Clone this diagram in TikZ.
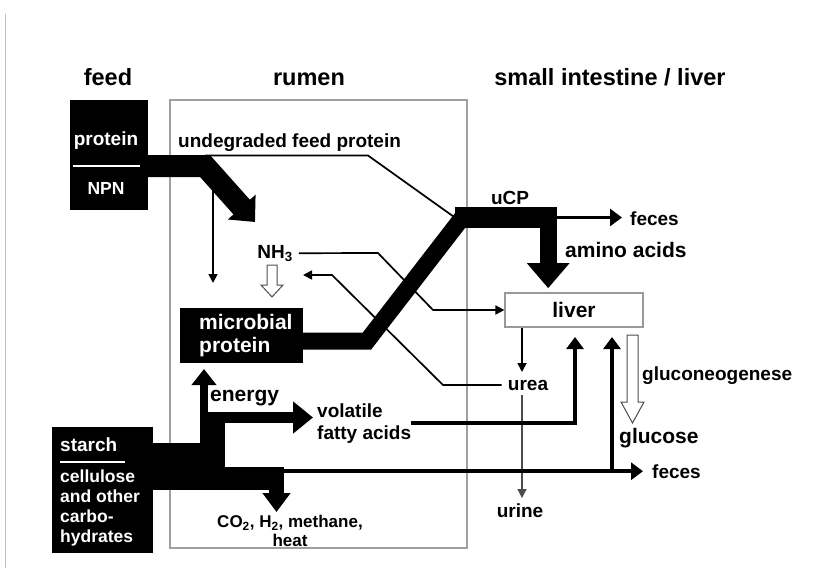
\documentclass[tikz,border=0pt]{standalone}
\usepackage{fontspec}
\setmainfont{Liberation Sans}
\usetikzlibrary{arrows.meta}

\tikzset{
	head/.style={font=\fontsize{23.5}{26}\selectfont\bfseries, inner sep=0pt},
	lbl/.style={font=\fontsize{19}{22}\selectfont\bfseries, inner sep=0pt},
	biglbl/.style={font=\fontsize{21}{23}\selectfont\bfseries, inner sep=0pt},
	whitelbl/.style={text=white},
	blackbox/.style={fill=black, inner sep=0pt},
	flow/.style={line width=1.7pt, -{Triangle[length=9pt,width=9pt]}},
	bigflow/.style={line width=3.5pt, -{Triangle[length=12pt,width=17pt]}},
	hollow/.style={fill=white, draw=black!70, line width=1pt},
}

\begin{document}
\begin{tikzpicture}[x=1pt,y=-1pt]
	\useasboundingbox (0,0) rectangle (827,568);
	% Frame Edge %
	\draw [gray!50, line width=1pt] (5,14) -- (5,568);

	% Headers %
	\node [head, anchor=base] (feedhead) at (108,85) {feed};
	\node [head, anchor=base] (rumenhead) at (309,85) {rumen};
	\node [head, anchor=base] (smallhead) at (610,85) {small intestine / liver};

	% Rumen %
	\node [draw=gray!75, line width=1.3pt, minimum width=297pt, minimum height=448pt, inner sep=0pt] (rumen) at (318.5,324) {};

	% Boxes %
	\node [blackbox, minimum width=78pt, minimum height=110pt] (feedbox) at (109,155) {};
	\node [blackbox, minimum width=123pt, minimum height=55pt] (micro) at (241.5,335.5) {};
	\node [blackbox, minimum width=102pt, minimum height=21pt] (ucp) at (506,217.5) {};
	\node [blackbox, minimum width=101pt, minimum height=126pt] (starch) at (102.5,490) {};
	\node [biglbl, draw=gray!80, line width=1.2pt, minimum width=138pt, minimum height=34pt] (liver) at (574,310) {liver};

	% Feed %
	\node [lbl, whitelbl, anchor=base] (protein) at (106,145) {protein};
	\draw [white, line width=2pt] (73,166) -- (140,166);
	\node [lbl, whitelbl, font=\fontsize{17.5}{20}\selectfont\bfseries, anchor=base] (npn) at (106,194) {NPN};
	\draw [line width=22pt, -{Triangle[length=20pt,width=36pt]}] (feedbox.east |- 0,166) -- (205,166) -- (255,222);
	\node [lbl, anchor=base west] (udp) at (178,147) {undegraded feed protein};
	\draw [line width=1.7pt] (205,155.5) -- (368,155.5) -- (ucp.west);
	\coordinate (microtop) at (213,283);
	\draw [flow] (microtop |- 0,177) -- (microtop);

	% NH3 %
	\node [lbl, anchor=base] (nh3) at (275,258) {NH\textsubscript{3}};
	\draw [hollow] (267,265) -- (277,265) -- (277,285) -- (283,285) -- (272,297) -- (261,285) -- (267,285) -- cycle;
	\draw [flow] ([xshift=6pt]nh3.east) -- (378,253) -- (433,310) -- (liver.west);

	% Microbial Protein %
	\node [biglbl, whitelbl, align=left, anchor=west] (microtxt) at (199,336) {microbial\\protein};
	\draw [line width=17pt] (micro.east |- 0,341) -- (367,341) -- (462,218);

	% uCP %
	\node [lbl, anchor=base] (ucplbl) at (510,204) {uCP};
	\node [lbl, anchor=base west] (feces1) at (630,225) {feces};
	\draw [bigflow, shorten >=8pt] (ucp.east) -- (ucp.east -| feces1.west);
	\draw [line width=17pt, -{Triangle[length=25pt,width=41pt]}] ([xshift=-9pt]ucp.south east) -- ++(0,60);
	\node [biglbl, anchor=base west] (amino) at (565,257) {amino acids};

	% Urea %
	\node [lbl, anchor=base] (urea) at (528,390) {urea};
	\node [lbl, anchor=base] (urine) at (520,517) {urine};
	\coordinate (ureatop) at (522,372);
	\draw [flow] (liver.south -| ureatop) -- (ureatop);
	\draw [flow, gray!60!black, line width=1.2pt] ([yshift=-5pt]urea.south -| ureatop) -- ([yshift=5pt]urine.north -| ureatop);
	\draw [flow] ([xshift=-6pt]urea.west) -- (443,385) -- (332,275) -- (303,275);

	% Carbohydrates %
	\node [lbl, whitelbl, anchor=base west] (starchlbl) at (60,451) {starch};
	\draw [white, line width=2pt] (60,462) -- (125,462);
	\node [lbl, whitelbl, font=\fontsize{17.5}{20}\selectfont\bfseries, align=left, anchor=west] (carbs) at (60,507.5) {cellulose\\and other\\carbo-\\hydrates};
	\fill (starch.east |- 0,443) rectangle (225,490);
	\fill (208,412) rectangle (225,443);
	\fill (225,467) rectangle (284,490);
	\draw [line width=8pt, -{Triangle[length=16pt,width=24pt]}] (204,444) -- (204,369);
	\node [biglbl, anchor=base west] (energy) at (210,401) {energy};
	\node [lbl, align=left, anchor=west] (vfa) at (317,424) {volatile\\fatty acids};
	\draw [line width=11pt, -{Triangle[length=20pt,width=31pt]}] (208,417.5) -- ([xshift=-4pt]vfa.west |- 0,417.5);
	\draw [line width=15pt, -{Triangle[length=19pt,width=27pt]}] (276.5,489) -- (276.5,512);
	\node [lbl, font=\fontsize{17}{19}\selectfont\bfseries, align=center] (gas) at (290,531) {CO\textsubscript{2}, H\textsubscript{2}, methane,\\heat};

	% To Liver %
	\draw [bigflow] (vfa.east |- 0,423) -- (575,423) -- (575,337);
	\node [lbl, anchor=base west] (feces2) at (652,478) {feces};
	\draw [bigflow, shorten >=9pt] (feces2.west -| 225,0) -- (feces2.west);
	\draw [bigflow] (612,0 |- feces2.west) -- (612,337);

	% Glucose %
	\draw [hollow] (627,335) -- (638,335) -- (638,402) -- (644,402) -- (632.5,423) -- (621,402) -- (627,402) -- cycle;
	\node [lbl, anchor=base west] (gluconeo) at (642,380) {gluconeogenese};
	\node [biglbl, anchor=base west] (glucose) at (619,443) {glucose};
\end{tikzpicture}
\end{document}
